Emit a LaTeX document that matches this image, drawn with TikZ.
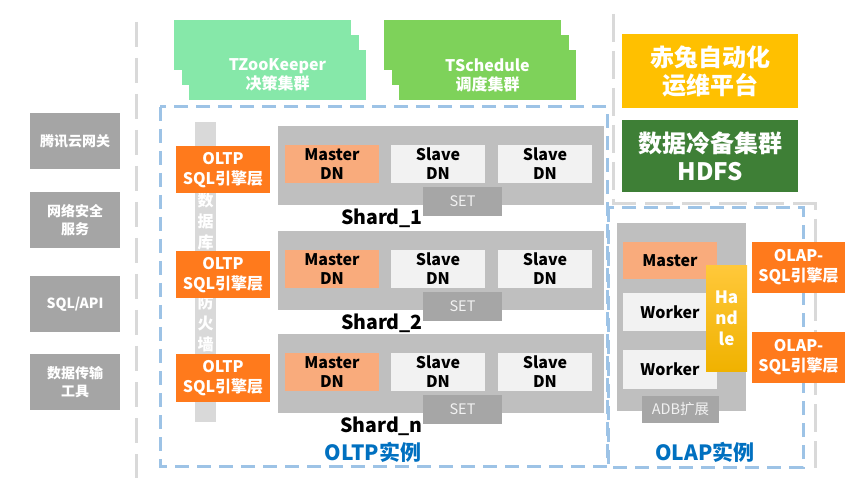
\documentclass[tikz,border=0pt]{standalone}
\usepackage{fontspec}
\setmainfont{Noto Sans CJK SC}
\usetikzlibrary{positioning}
\definecolor{sidegray}{HTML}{A5A5A5}
\definecolor{wallgray}{HTML}{D9D9D9}
\definecolor{shardgray}{HTML}{BFBFBF}
\definecolor{slavegray}{HTML}{F2F2F2}
\definecolor{setgray}{HTML}{A6A6A6}
\definecolor{masterorange}{HTML}{F9AB7C}
\definecolor{sqlorange}{HTML}{FF7A1C}
\definecolor{zkgreen}{HTML}{86E8A9}
\definecolor{schedgreen}{HTML}{7ED25A}
\definecolor{opsyellow}{HTML}{FFC000}
\definecolor{handletop}{HTML}{FFC83A}
\definecolor{handlebot}{HTML}{F0B200}
\definecolor{hdfsgreen}{HTML}{3E7F36}
\definecolor{dashblue}{HTML}{9DC3E6}
\definecolor{titleblue}{HTML}{0070C0}
\tikzset{
  tile/.style={inner sep=0pt, align=center, text=white, font=\bfseries\fontsize{14}{18}\selectfont},
  entry/.style={tile, fill=sidegray, minimum width=90pt, minimum height=56pt},
  cluster/.style={tile, minimum width=177pt, minimum height=50pt, font=\bfseries\fontsize{16}{19}\selectfont},
  platform/.style={tile, minimum width=176pt, font=\bfseries\fontsize{24}{28}\selectfont},
  sqlbox/.style={tile, fill=sqlorange, font=\bfseries\fontsize{16}{20}\selectfont},
  dnbox/.style={tile, text=black, minimum width=94pt, minimum height=38pt, font=\bfseries\fontsize{16}{19}\selectfont},
  tagbox/.style={inner sep=0pt, fill=setgray, text=slavegray, font=\fontsize{14.5}{17}\selectfont},
  fence/.style={draw=wallgray, line width=3pt, dash pattern=on 25pt off 11pt},
  zone/.style={draw=dashblue, line width=3pt, dash pattern=on 14pt off 8pt},
  zonelabel/.style={text=titleblue, inner sep=0pt, font=\bfseries\fontsize{21}{24}\selectfont},
}
\begin{document}
\begin{tikzpicture}[x=1pt,y=-1pt]
\useasboundingbox (0,0) rectangle (865,494);
% Fences
\draw[fence] (136,22) -- (136,478);
\draw[fence, dash pattern=on 28pt off 9pt] (613,14) -- (613,204) -- (815,204) -- (815,468);
% Instances
\draw[zone] (160,107) rectangle (607,466);
\draw[zone] (608,208) rectangle (803,467);
% Access layer
\node[entry] (gw) at (75,141) {腾讯云网关};
\node[entry] (sec) at (75,220) {网络安全\\服务};
\node[entry] (api) at (75,304) {SQL/API};
\node[entry] (dts) at (75,382) {数据传输\\工具};
% Clusters
\foreach \i in {0,1,2} {
  \node[cluster, fill=zkgreen] (zk\i) at (262.5+7.5*\i,45+15*\i) {};
  \node[cluster, fill=schedgreen] (ts\i) at (472.5+7.5*\i,45+15*\i) {};
}
\node[cluster] (zktext) at (zk2) {TZooKeeper\\决策集群};
\node[cluster] (tstext) at (ts2) {TSchedule\\调度集群};
% Platforms
\node[platform, fill=opsyellow, minimum height=74pt] (ops) at (710,71) {赤兔自动化\\运维平台};
\node[platform, fill=hdfsgreen, minimum height=72pt] (hdfs) at (710,156) {数据冷备集群\\HDFS};
% Firewall
\node[fill=wallgray, minimum width=21pt, minimum height=300pt, inner sep=0pt] (wall) at (205.5,272) {};
\foreach \c/\y [count=\i] in {数/200, 据/221, 库/242, 防/302, 火/323, 墙/344}
  \node[tile, font=\bfseries\fontsize{16}{16}\selectfont] (wall\i) at (205.5,\y) {\c};
% Shards
\foreach \n/\t [count=\i] in {1/126, 2/231, n/334} {
  \node[sqlbox, minimum width=94pt, minimum height=47pt] (oltp\i) at (223,\t+44) {OLTP\\SQL引擎层};
  \node[fill=shardgray, minimum width=326pt, minimum height=79pt, inner sep=0pt] (shard\i) at (441,\t+39.5) {};
  \node[dnbox, fill=masterorange] (master\i) at (332,\t+38) {Master\\DN};
  \node[dnbox, fill=slavegray] (slavea\i) at (438,\t+38) {Slave\\DN};
  \node[dnbox, fill=slavegray] (slaveb\i) at (545,\t+38) {Slave\\DN};
  \node[tagbox, minimum width=79pt, minimum height=29pt] (set\i) at (462.5,\t+75.5) {SET};
  \node[anchor=east, inner sep=0pt, font=\bfseries\fontsize{19.5}{22}\selectfont] (shardlbl\i) at (423,\t+92) {Shard\_\n};
}
% OLAP
\node[fill=shardgray, minimum width=129pt, minimum height=188pt, inner sep=0pt] (adb) at (681.5,317) {};
\node[dnbox, fill=masterorange, minimum height=37pt] (olapmaster) at (670,260.5) {Master};
\node[dnbox, fill=slavegray] (worker1) at (670,312) {Worker};
\node[dnbox, fill=slavegray] (worker2) at (670,369.5) {Worker};
\node[tile, top color=handletop, bottom color=handlebot, minimum width=41pt, minimum height=105pt, font=\bfseries\fontsize{17}{21}\selectfont] (handle) at (726.5,318.5) {Ha\\nd\\le};
\node[tagbox, minimum width=77pt, minimum height=27pt] (adbext) at (680.5,409.5) {ADB扩展};
\node[sqlbox, minimum width=93pt, minimum height=51pt] (olap1) at (798.5,267.5) {OLAP-\\SQL引擎层};
\node[sqlbox, minimum width=93pt, minimum height=51pt] (olap2) at (798.5,357.5) {OLAP-\\SQL引擎层};
% Labels
\node[zonelabel] (oltplbl) at (373,452) {OLTP实例};
\node[zonelabel] (olaplbl) at (705,452) {OLAP实例};
\end{tikzpicture}
\end{document}
